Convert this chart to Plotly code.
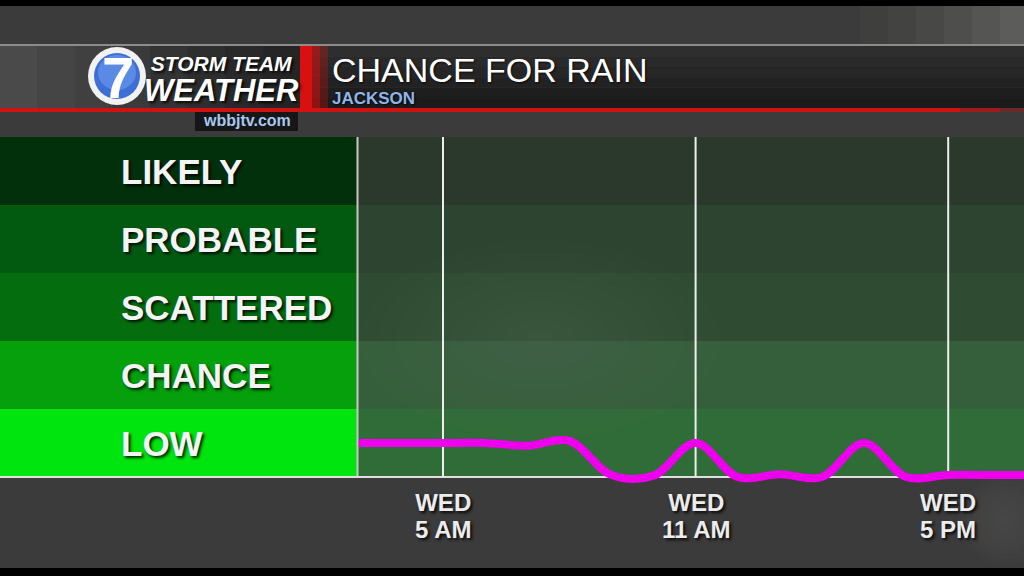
import plotly.graph_objects as go

# ---------------- data ----------------
levels = ["LOW", "CHANCE", "SCATTERED", "PROBABLE", "LIKELY"]
level_colors_left = ["#00e50e", "#05a00c", "#046e0e", "#025a10", "#02300a"]
level_colors_plot = ["#306c38", "#355f3b", "#2f4c33", "#2d4431", "#2b392d"]

hours = [3, 4, 5, 6, 7, 8, 9, 10, 11, 12, 13, 14, 15, 16, 17, 18, 19]
rain_level = [0.5, 0.5, 0.5, 0.5, 0.46, 0.53, 0.03, 0.02, 0.5, 0.0, 0.04, 0.0, 0.5, 0.0, 0.03, 0.03, 0.03]

tick_hours = [5, 11, 17]
tick_day = ["WED", "WED", "WED"]
tick_time = ["5 AM", "11 AM", "5 PM"]

title_text = "CHANCE FOR RAIN"
subtitle_text = "JACKSON"
site_text = "wbbjtv.com"

# ---------------- layout helpers ----------------
W, H = 1024, 576
PX_UNIT = 68.0          # pixels per level band
Y0_PX = 477.0           # pixel row of level 0
YMIN, YMAX = -0.2, 5.0
PLOT_LEFT = 358


def py(p):  # pixel row -> paper y
    return (H - p) / H


def px(p):  # pixel col -> paper x
    return p / W


y_dom = [py(Y0_PX - YMIN * PX_UNIT), py(Y0_PX - YMAX * PX_UNIT)]

fig = go.Figure()

fig.add_trace(go.Scatter(
    x=hours, y=rain_level, mode="lines",
    line=dict(color="#ee00ee", width=8, shape="spline", smoothing=1.0),
    hoverinfo="skip", showlegend=False,
))

shapes = []


def rect(x0, y0, x1, y1, color, layer="below"):
    shapes.append(dict(type="rect", xref="paper", yref="paper",
                       x0=px(x0), x1=px(x1), y0=py(y1), y1=py(y0),
                       fillcolor=color, line=dict(width=0), layer=layer))


def soft_blob(cx, cy, rx, ry, steps=10, alpha=0.012):
    for k in range(steps):
        f = 1 - k / steps
        shapes.append(dict(type="circle", xref="paper", yref="paper",
                           x0=px(cx - rx * f), x1=px(cx + rx * f),
                           y0=py(cy + ry * f), y1=py(cy - ry * f),
                           fillcolor="rgba(200,210,200,%.3f)" % alpha,
                           line=dict(width=0), layer="below"))


# background pieces
rect(0, 0, 1024, 6, "#000000")
rect(0, 568, 1024, 576, "#000000")
for k, c in enumerate(["#3f3f3e", "#434342", "#484847", "#4e4e4c", "#555553", "#5c5c5a"]):
    rect(860 + k * 28, 6, 1024, 44, c)
# header bar
rect(0, 44, 1024, 46, "#8c8c8c")
for k, c in enumerate(["#2e2e2e", "#2a2a2a", "#262626", "#222222", "#1e1e1e", "#1b1b1b"]):
    rect(300, 46 + k * 10.4, 1024, 46 + (k + 1) * 10.4, c)
for k, c in enumerate(["#4a4a4a", "#454545", "#404040", "#3a3a3a", "#343434", "#2e2e2e", "#292929", "#252525"]):
    rect(k * 37.5, 46, (k + 1) * 37.5, 108, c)
rect(0, 108, 1024, 112, "#d01212")
rect(960, 108, 1000, 112, "#a01c1c")
rect(1000, 108, 1024, 112, "#6a2a2a")
rect(300, 46, 312, 112, "#d81010")
rect(312, 46, 320, 112, "rgba(216,16,16,0.6)")
rect(320, 46, 328, 112, "rgba(216,16,16,0.3)")
# site box
rect(195, 112, 298, 131, "#161616")

# level bands
for i, name in enumerate(levels):
    shapes.append(dict(type="rect", xref="paper", yref="y",
                       x0=0, x1=px(PLOT_LEFT - 1), y0=i, y1=i + 1,
                       fillcolor=level_colors_left[i], line=dict(width=0), layer="below"))
    shapes.append(dict(type="rect", xref="paper", yref="y",
                       x0=px(PLOT_LEFT), x1=1, y0=i, y1=i + 1,
                       fillcolor=level_colors_plot[i], line=dict(width=0), layer="below"))

# faint fog patches
soft_blob(540, 340, 180, 100)
soft_blob(1005, 520, 45, 45, steps=8, alpha=0.015)

# vertical time lines
for t in tick_hours:
    shapes.append(dict(type="line", xref="x", yref="y", x0=t, x1=t, y0=0, y1=YMAX,
                       line=dict(color="#eeeeee", width=2), layer="below"))
# left edge of plot & axis baseline
shapes.append(dict(type="line", xref="paper", yref="y", x0=px(PLOT_LEFT - 0.5), x1=px(PLOT_LEFT - 0.5),
                   y0=0, y1=YMAX, line=dict(color="#c8c8c8", width=2), layer="below"))
shapes.append(dict(type="line", xref="paper", yref="y", x0=0, x1=1, y0=0, y1=0,
                   line=dict(color="#e0e0e0", width=2), layer="below"))
# logo circle
shapes.append(dict(type="circle", xref="paper", yref="paper",
                   x0=px(88), x1=px(146), y0=py(105), y1=py(47),
                   fillcolor="#f2f2f2", line=dict(width=0), layer="above"))
shapes.append(dict(type="circle", xref="paper", yref="paper",
                   x0=px(94), x1=px(140), y0=py(99), y1=py(53),
                   fillcolor="#3d6fd6", line=dict(width=0), layer="above"))
shapes.append(dict(type="circle", xref="paper", yref="paper",
                   x0=px(98), x1=px(136), y0=py(90), y1=py(55),
                   fillcolor="#5a8ae6", line=dict(width=0), layer="above"))

annotations = []
shadow = "2px 2px 3px rgba(0,0,0,0.85)"
FONT = "Liberation Sans, Arial"

for i, name in enumerate(levels):
    annotations.append(dict(
        text="<b>%s</b>" % name, xref="paper", yref="y", x=px(119), y=i + 0.5,
        xanchor="left", yanchor="middle", showarrow=False,
        font=dict(family=FONT, size=35, color="#f4f4f4", shadow=shadow)))

# two-line tick labels (line spacing = 1.3 * base size)
for t, d, tm in zip(tick_hours, tick_day, tick_time):
    annotations.append(dict(
        text="<span style='font-size:24px'><b>%s</b></span><br><span style='font-size:24px'><b>%s</b></span>" % (d, tm),
        xref="x", yref="paper", x=t, y=py(515.5),
        xanchor="center", yanchor="middle", showarrow=False,
        font=dict(family=FONT, size=20.8, color="#ececec", shadow=shadow)))

annotations.append(dict(
    text="<span style='font-size:34px'>%s</span><br><span style='color:#8fb5ea'><b>%s</b></span>" % (title_text, subtitle_text),
    xref="paper", yref="paper", x=px(330), y=py(79),
    xanchor="left", yanchor="middle", align="left", showarrow=False,
    font=dict(family=FONT, size=17, color="#ffffff", shadow="1px 1px 2px rgba(0,0,0,0.8)")))
annotations.append(dict(
    text="<b>%s</b>" % site_text, xref="paper", yref="paper", x=px(247), y=py(121),
    xanchor="center", yanchor="middle", showarrow=False,
    font=dict(family=FONT, size=16, color="#a8c8f0")))
# logo texts
annotations.append(dict(
    text="<b>7</b>", xref="paper", yref="paper", x=px(118), y=py(77),
    xanchor="center", yanchor="middle", showarrow=False,
    font=dict(family=FONT, size=58, color="#ffffff")))
annotations.append(dict(
    text="<span style='font-size:21px'><b><i>STORM TEAM</i></b></span><br><span style='font-size:31px'><b><i>WEATHER</i></b></span>",
    xref="paper", yref="paper", x=px(221), y=py(79.5),
    xanchor="center", yanchor="middle", showarrow=False,
    font=dict(family=FONT, size=23, color="#ffffff", shadow=shadow)))

x_left = 5 - (443 - PLOT_LEFT) / 42.1
x_right = 5 + (W - 443) / 42.1

fig.update_layout(
    width=W, height=H,
    margin=dict(l=0, r=0, t=0, b=0),
    paper_bgcolor="#3b3b3b",
    plot_bgcolor="rgba(0,0,0,0)",
    xaxis=dict(domain=[px(PLOT_LEFT), 1], range=[x_left, x_right], showgrid=False,
               zeroline=False, showticklabels=False, ticks=""),
    yaxis=dict(domain=y_dom, range=[YMIN, YMAX], showgrid=False, zeroline=False,
               showticklabels=False, ticks=""),
    shapes=shapes,
    annotations=annotations,
    showlegend=False,
)

fig.write_html("out.html", config={"displayModeBar": False},
               post_script="document.body.style.margin='0';document.body.style.overflow='hidden';")
